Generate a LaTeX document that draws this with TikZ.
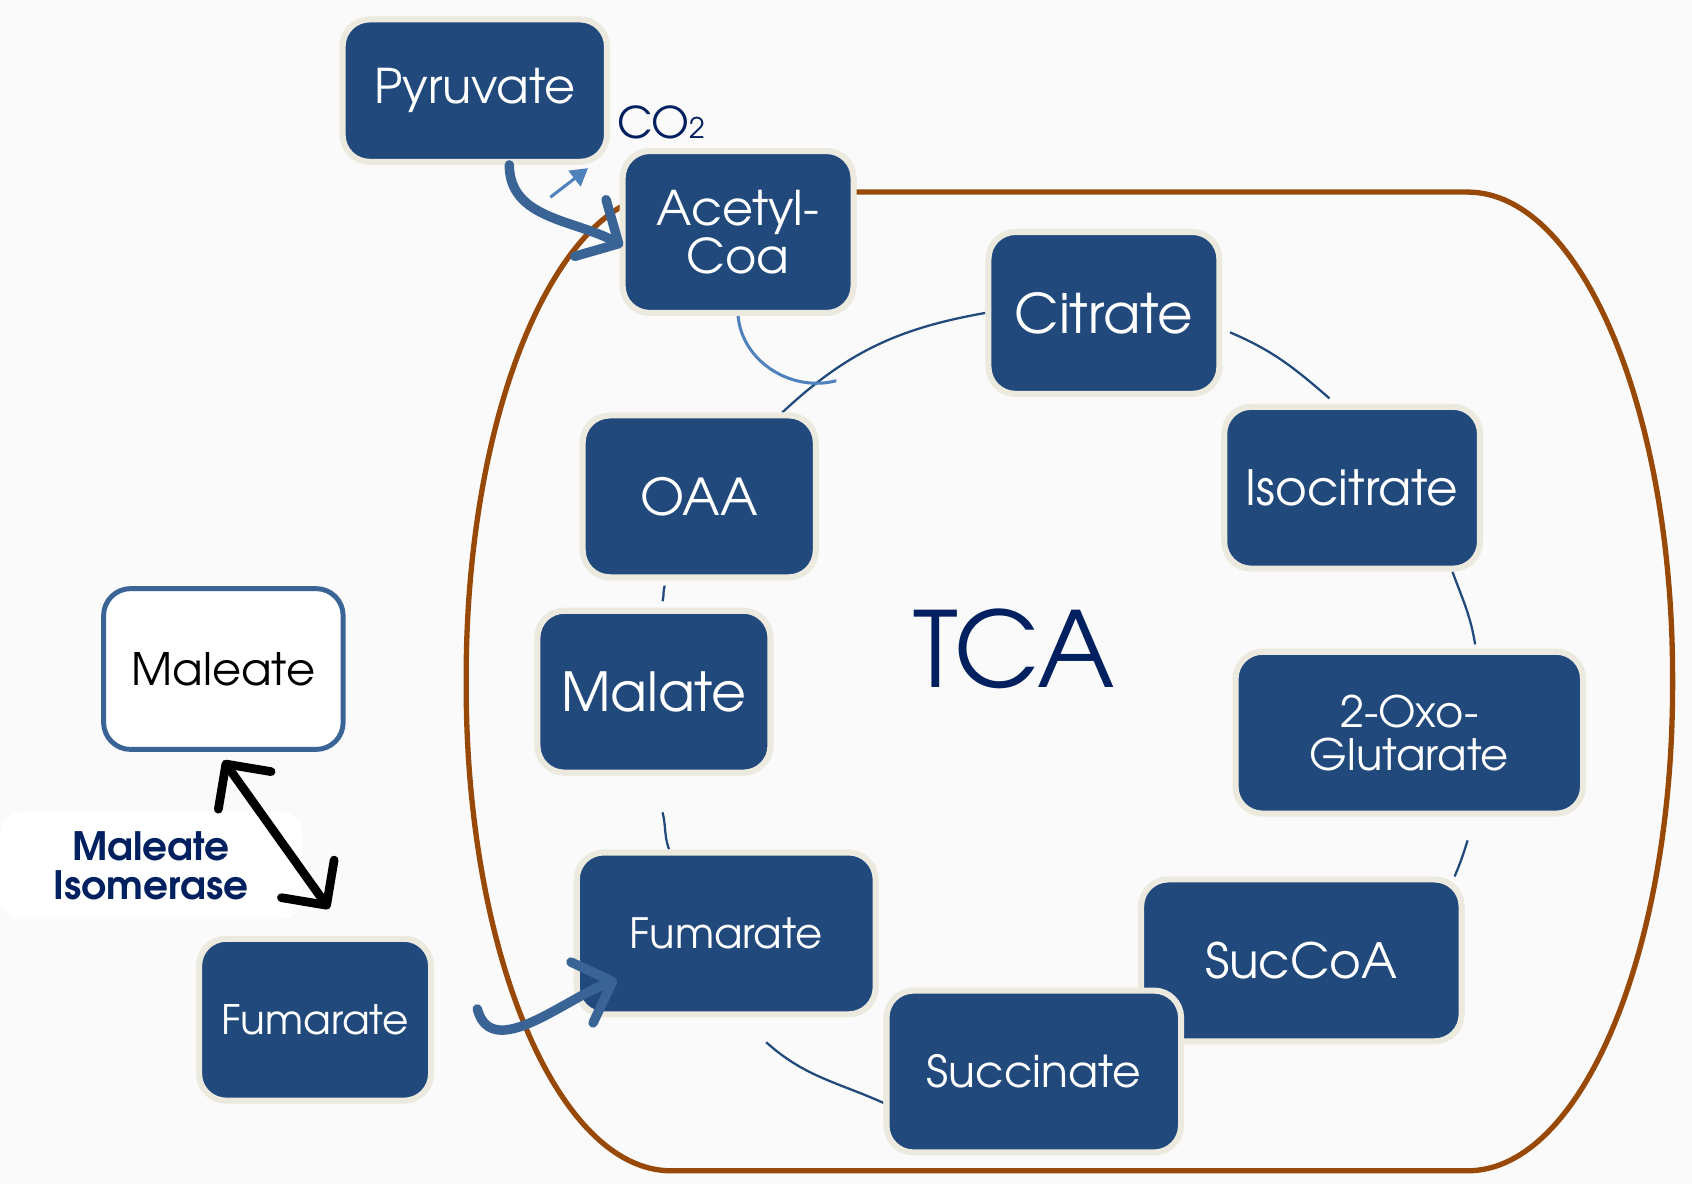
\documentclass[tikz,border=0pt]{standalone}
\usepackage{fontspec}
\setmainfont{TeX Gyre Adventor}
\usetikzlibrary{arrows.meta,calc,backgrounds}
\definecolor{boxblue}{RGB}{33,73,124}
\definecolor{boxrim}{RGB}{236,233,222}
\definecolor{arrblue}{RGB}{58,100,150}
\definecolor{lineblue}{RGB}{79,129,189}
\definecolor{navy}{RGB}{0,32,96}
\definecolor{rust}{RGB}{152,72,7}
\definecolor{paper}{RGB}{250,250,250}
\newcommand{\fs}[1]{\fontsize{#1}{#1}\selectfont}
\tikzset{
  met/.style={draw=boxrim, line width=1.6pt, fill=boxblue, rounded corners=0.25cm,
    text=white, align=center, inner sep=0pt, minimum height=1.5cm},
  cyc/.style={boxblue, line width=0.6pt},
  bigarrow/.style={arrblue, line width=2.5pt, line cap=round,
    -{Straight Barb[length=3mm,width=6mm,round]}},
}
\begin{document}
\begin{tikzpicture}
\useasboundingbox (0,0) rectangle (15.68,10.97);

% metabolites
\node[met, minimum width=2.45cm, minimum height=1.32cm, font=\fs{12.6}] (pyruvate) at (4.40,10.13) {Pyruvate};
\node[text=navy, font=\fs{11.5}, inner sep=0pt] (co2) at (6.13,9.84) {CO{\fs{7.5}2}};
\node[met, minimum width=2.14cm, font=\fs{12.6}] (acetyl) at (6.84,8.82) {Acetyl-\\Coa};
\node[met, minimum width=2.14cm, font=\fs{14.4}] (citrate) at (10.23,8.07) {Citrate};
\node[met, minimum width=2.37cm, font=\fs{12.8}] (isocit) at (12.53,6.45) {Isocitrate};
\node[met, minimum width=3.22cm, font=\fs{11.4}] (oxo) at (13.06,4.18) {2-Oxo-\\Glutarate};
\node[met, minimum width=2.97cm, font=\fs{12.8}] (succoa) at (12.06,2.07) {SucCoA};
\node[met, minimum width=2.73cm, font=\fs{11.6}] (succinate) at (9.58,1.04) {Succinate};
\node[met, minimum width=2.77cm, font=\fs{11}] (fumin) at (6.73,2.32) {Fumarate};
\node[met, minimum width=2.16cm, font=\fs{14.2}] (malate) at (6.06,4.56) {Malate};
\node[met, minimum width=2.16cm, font=\fs{13.4}] (oaa) at (6.48,6.37) {OAA};
\node[text=navy, font=\fs{27.6}] (tca) at (9.40,4.96) {TCA};

% outside the cycle
\node[met, draw=arrblue, line width=1.3pt, fill=white, text=black, minimum width=2.22cm,
  minimum height=1.49cm, font=\fs{11.8}] (maleate) at (2.07,4.77) {Maleate};
\node[met, minimum width=2.15cm, font=\fs{10.7}] (fumout) at (2.92,1.52) {Fumarate};
\node[fill=white, rounded corners=0.2cm, minimum width=2.8cm, minimum height=1cm, text=navy,
  align=center, font=\fs{10.3}\bfseries] (isom) at (1.40,2.95) {Maleate\\Isomerase};

\begin{scope}[on background layer]
\fill[paper] (0,0) rectangle (15.68,10.97);
% mitochondrion outline
\draw[rust, line width=1.4pt] (6.22,9.19) -- (13.60,9.19)
  arc[start angle=90, end angle=0, x radius=1.9, y radius=4.5] -- (15.50,4.62)
  arc[start angle=0, end angle=-90, x radius=1.9, y radius=4.5] -- (6.22,0.12)
  arc[start angle=-90, end angle=-180, x radius=1.9, y radius=4.5] -- (4.32,4.69)
  arc[start angle=180, end angle=90, x radius=1.9, y radius=4.5];
% cycle arcs
\draw[cyc] ($(oaa.north)+(0.77,0)$) to[out=43,in=190] (citrate.west);
\draw[cyc] ($(citrate.east)+(0.07,-0.18)$) to[out=-23,in=139] ($(isocit.north)+(-0.21,0.05)$);
\draw[cyc] ($(isocit.south)+(0.93,0)$) to[out=-70,in=99] ($(oxo.north)+(0.61,0.04)$);
\draw[cyc] ($(oxo.south)+(0.54,-0.22)$) to[out=-107,in=67] ($(succoa.north)+(1.42,0)$);
\draw[cyc] ($(succinate.west)+(0,-0.29)$) to[out=156,in=-42] ($(fumin.south)+(0.37,-0.23)$);
\draw[cyc] ($(fumin.north)+(-0.53,0)$) to[out=110,in=-76] ($(malate.south)+(0.08,-0.34)$);
\draw[cyc] ($(malate.north)+(0.08,0.06)$) to[out=75,in=252] ($(oaa.south)+(-0.32,-0.05)$);
\draw[lineblue, line width=0.8pt] (acetyl.south) to[out=-85,in=195] ($(acetyl.south)+(0.91,-0.60)$);
\end{scope}

% arrows
\draw[lineblue, line width=0.8pt, -{Triangle[length=1.6mm,width=1.8mm]}]
  ($(pyruvate.south)+(0.70,-0.30)$) -- ($(pyruvate.south)+(1.05,-0.03)$);
\draw[bigarrow] ($(pyruvate.south)+(0.32,0)$) to[out=-90,in=151] ($(acetyl.west)+(0.03,-0.13)$);
\draw[bigarrow] ($(fumout.east)+(0.40,0.10)$) to[out=-75,in=200] ($(fumin.west)+(0.40,-0.43)$);
\draw[black, line width=2.3pt, line cap=round,
  {Straight Barb[length=3mm,width=6mm,round]}-{Straight Barb[length=3mm,width=6mm,round]}]
  ($(maleate.south)+(0,-0.08)$) -- ($(fumout.north)+(0.13,0.25)$);
\end{tikzpicture}
\end{document}
